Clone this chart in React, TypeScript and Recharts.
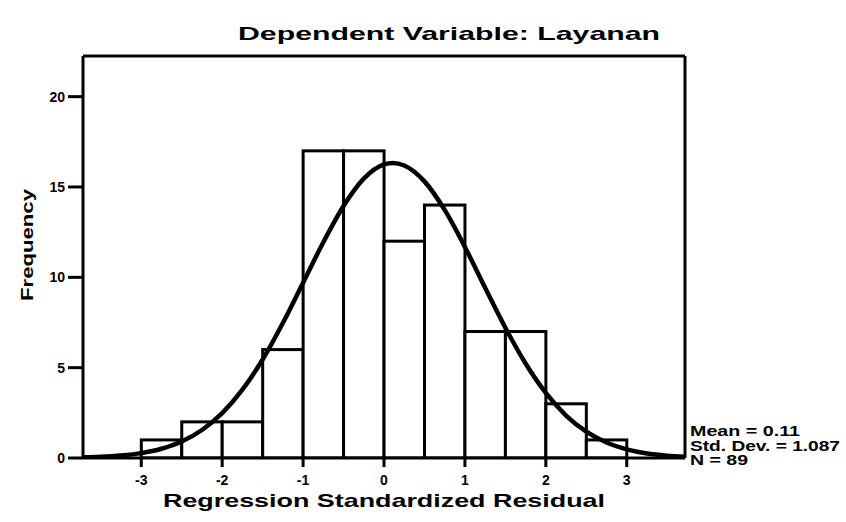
import React from 'react';
import { ComposedChart, Bar, Line, XAxis, YAxis, ReferenceLine } from 'recharts';

// histogram bins (0.5 wide), centres and counts
const binCenters = [-2.75, -2.25, -1.75, -1.25, -0.75, -0.25, 0.25, 0.75, 1.25, 1.75, 2.25, 2.75];
const binCounts = [1, 2, 2, 6, 17, 17, 12, 14, 7, 7, 3, 1];

// normal curve
const curveX = [-3.72, -3.5, -3.25, -3, -2.75, -2.5, -2.25, -2, -1.75, -1.5, -1.25, -1, -0.75, -0.5, -0.25, 0, 0.11, 0.25, 0.5, 0.75, 1, 1.25, 1.5, 1.75, 2, 2.25, 2.5, 2.75, 3, 3.25, 3.5, 3.72];
const curveY = [0.04, 0.07, 0.14, 0.27, 0.51, 0.91, 1.55, 2.48, 3.78, 5.45, 7.47, 9.7, 11.94, 13.95, 15.46, 16.25, 16.33, 16.19, 15.31, 13.73, 11.68, 9.42, 7.21, 5.23, 3.6, 2.35, 1.46, 0.86, 0.48, 0.25, 0.13, 0.07];

const xTicks = [-3, -2, -1, 0, 1, 2, 3];
const yTicks = [0, 5, 10, 15, 20];
const statLines = ['Mean = 0.11', 'Std. Dev. = 1.087', 'N = 89'];
const statWidths = [110, 150, 58];

const X_MIN = -3.72;
const X_MAX = 3.72;
const Y_MAX = 22.25;
const BIN_WIDTH = 0.5;

const W = 846;
const H = 522;
const margin = { top: 56, right: 161, bottom: 34, left: 43 };
const plotW = W - margin.left - 40 - margin.right;
const barPx = (plotW / (X_MAX - X_MIN)) * BIN_WIDTH;

const bars = binCenters.map((x, i) => ({ x, count: binCounts[i] }));
const curve = curveX.map((x, i) => ({ x, freq: curveY[i] }));

const font = 'Arial, "Liberation Sans", sans-serif';

// band size gets squeezed by the curve's x values, so widen each bar back to a full bin
const BinShape = (props: any) => {
  const { x, y, width, height } = props;
  const cx = x + width / 2;
  return <rect x={cx - barPx / 2} y={y} width={barPx} height={height} fill="#fff" stroke="#000" strokeWidth={3} />;
};

export default function App() {
  return (
    <div style={{ position: 'absolute', left: 0, top: 0, width: W, height: H, background: '#fff' }}>
      <ComposedChart width={W} height={H} data={bars} margin={margin} barCategoryGap={0} barGap={0}>
        <XAxis
          dataKey="x"
          type="number"
          domain={[X_MIN, X_MAX]}
          allowDataOverflow
          ticks={xTicks}
          height={30}
          tickSize={9}
          tickMargin={8}
          stroke="#000"
          strokeWidth={3}
          tick={{ fill: '#000', fontSize: 14, fontWeight: 'bold', fontFamily: font }}
        />
        <YAxis
          type="number"
          domain={[0, Y_MAX]}
          allowDataOverflow
          ticks={yTicks}
          width={40}
          tickSize={15}
          tickMargin={3}
          stroke="#000"
          strokeWidth={3}
          tick={{ fill: '#000', fontSize: 14, fontWeight: 'bold', fontFamily: font }}
        />
        <ReferenceLine y={Y_MAX} stroke="#000" strokeWidth={3} />
        <ReferenceLine x={X_MAX} stroke="#000" strokeWidth={3} />
        <Bar dataKey="count" shape={<BinShape />} isAnimationActive={false} />
        <Line
          data={curve}
          dataKey="freq"
          type="monotone"
          stroke="#000"
          strokeWidth={4.5}
          dot={false}
          activeDot={false}
          isAnimationActive={false}
        />
      </ComposedChart>
      <svg width={W} height={H} style={{ position: 'absolute', left: 0, top: 0, pointerEvents: 'none' }}>
        <g fontFamily={font} fontWeight="bold" fill="#000">
          <text x={238} y={40} fontSize={19} textLength={422} lengthAdjust="spacingAndGlyphs">
            Dependent Variable: Layanan
          </text>
          <text x={163} y={507} fontSize={19} textLength={442} lengthAdjust="spacingAndGlyphs">
            Regression Standardized Residual
          </text>
          <text
            transform="translate(33, 245) rotate(-90)"
            x={0}
            y={0}
            textAnchor="middle"
            fontSize={17}
            textLength={112}
            lengthAdjust="spacingAndGlyphs"
          >
            Frequency
          </text>
          {statLines.map((s, i) => (
            <text key={s} x={690} y={436 + i * 14.5} fontSize={14} textLength={statWidths[i]} lengthAdjust="spacingAndGlyphs">
              {s}
            </text>
          ))}
        </g>
      </svg>
    </div>
  );
}
